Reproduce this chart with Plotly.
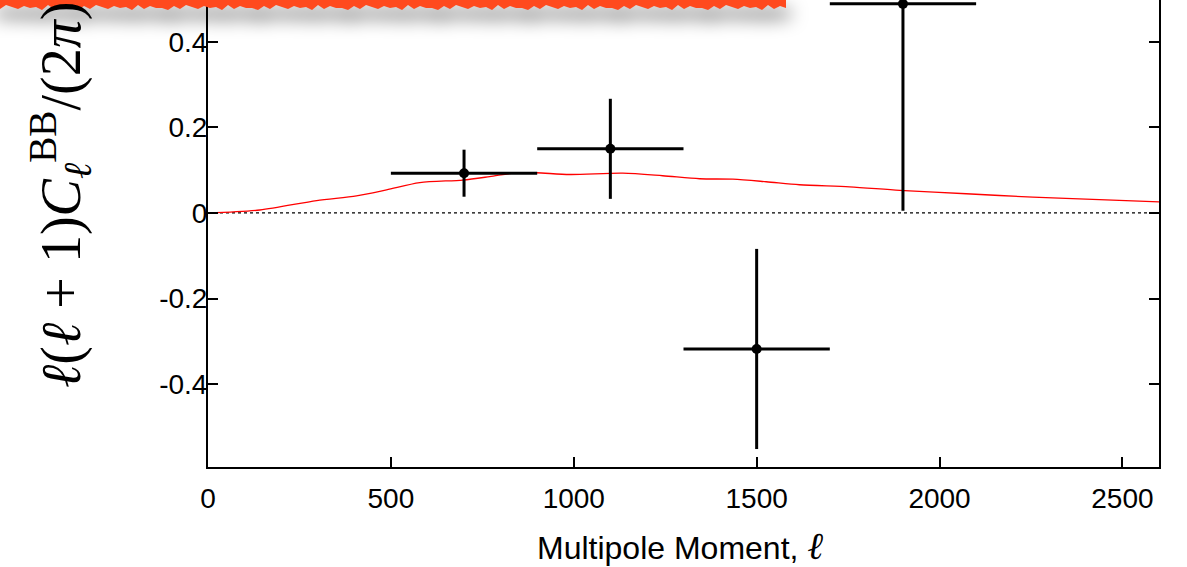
import base64
import plotly.graph_objects as go

# Measured BB band powers: bin centres, half-widths and 1-sigma errors
ell = [700, 1100, 1500, 1900]
ell_halfwidth = [200, 200, 200, 200]
bb = [0.093, 0.150, -0.318, 0.489]
bb_err = [0.055, 0.117, 0.234, 0.484]

# Lensing B-mode model spectrum
theory_ell = [0, 142, 297, 406, 488, 579, 697, 770, 843, 898, 989, 1134, 1243,
              1344, 1435, 1526, 1617, 1754, 1891, 2073, 2255, 2437, 2600]
theory_bb = [0, 0.007, 0.029, 0.040, 0.054, 0.071, 0.077, 0.085, 0.094, 0.094,
             0.090, 0.093, 0.087, 0.080, 0.079, 0.073, 0.066, 0.061, 0.053,
             0.045, 0.037, 0.031, 0.026]

x_ticks = [0, 500, 1000, 1500, 2000, 2500]
y_ticks = [-0.4, -0.2, 0, 0.2, 0.4]
y_ticktext = ["-0.4", "-0.2", "0", "0.2", "0.4"]

W, H = 1187, 567
L, R, T, B = 208, 28, 0, 100
plot_w, plot_h = W - L - R, H - T - B

fig = go.Figure()

# zero reference line
fig.add_trace(go.Scatter(
    x=[0, 2600], y=[0, 0], mode="lines",
    line=dict(color="black", width=1.3, dash="3px,3px"),
    hoverinfo="skip", showlegend=False))

# model curve
fig.add_trace(go.Scatter(
    x=theory_ell, y=theory_bb, mode="lines",
    line=dict(color="#ff0000", width=1.3, shape="spline", smoothing=0.8),
    showlegend=False))

# band powers with bin widths
fig.add_trace(go.Scatter(
    x=ell, y=bb, mode="markers",
    marker=dict(color="black", size=10, symbol="circle"),
    error_x=dict(type="data", array=ell_halfwidth, symmetric=True,
                 color="black", thickness=3, width=0),
    error_y=dict(type="data", array=bb_err, symmetric=True,
                 color="black", thickness=3, width=0),
    showlegend=False))

# red strip with soft drop shadow along the top edge
pattern = [8, 6, 9, 5, 10, 7, 8, 6, 9, 7, 5, 9, 6, 10, 8]
pts = ["-10,0", "786,0"]
xs = list(range(786, -12, -6))
for i, xv in enumerate(xs):
    pts.append(f"{xv},{pattern[i % len(pattern)]}")
poly = " ".join(pts)
svg = (
    "<svg xmlns='http://www.w3.org/2000/svg' width='860' height='60' viewBox='0 0 860 60'>"
    "<defs><filter id='s' x='-10%' y='-200%' width='120%' height='600%'>"
    "<feGaussianBlur stdDeviation='9'/></filter></defs>"
    f"<polygon points='{poly}' fill='#000' fill-opacity='0.65' transform='translate(4,10)' filter='url(#s)'/>"
    f"<polygon points='{poly}' fill='#ff4a1e'/>"
    "</svg>"
)
src = "data:image/svg+xml;base64," + base64.b64encode(svg.encode()).decode()
fig.add_layout_image(dict(
    source=src, xref="paper", yref="paper",
    x=-L / plot_w, y=1, sizex=860 / plot_w, sizey=60 / plot_h,
    xanchor="left", yanchor="top", sizing="stretch", layer="above"))

# axis titles
fig.add_annotation(
    text="<i>ℓ</i>(<i>ℓ</i> + 1)<i>C</i><sub><i>ℓ</i></sub><sup>BB</sup>/(2<i>π</i>)",
    xref="paper", yref="paper", x=(60 - L) / plot_w, y=1 - 195 / plot_h,
    xanchor="center", yanchor="middle", textangle=-90, showarrow=False,
    font=dict(family="Liberation Serif, DejaVu Serif, serif", size=56, color="black"))
fig.add_annotation(
    text="Multipole Moment, <span style='font-family:Liberation Serif;font-size:38px'><i>ℓ</i></span>",
    xref="paper", yref="paper", x=(680 - L) / plot_w, y=1 - 546 / plot_h,
    xanchor="center", yanchor="middle", showarrow=False,
    font=dict(family="Liberation Sans, Arial, sans-serif", size=32, color="black"))

axis_font = dict(family="Liberation Sans, Arial, sans-serif", size=28, color="black")
fig.update_xaxes(
    range=[0, 2600], tickvals=x_ticks, ticktext=[str(v) for v in x_ticks],
    ticks="inside", ticklen=10, tickwidth=1.5, tickcolor="black",
    showline=True, linecolor="black", linewidth=2, mirror=False,
    showgrid=False, zeroline=False, tickfont=axis_font, ticklabelstandoff=5)
fig.update_yaxes(
    range=[-0.594, 0.498], tickvals=y_ticks, ticktext=y_ticktext,
    ticks="inside", ticklen=10, tickwidth=1.5, tickcolor="black",
    showline=True, linecolor="black", linewidth=2, mirror="ticks",
    showgrid=False, zeroline=False, tickfont=axis_font, ticklabelstandoff=-7)

fig.update_layout(
    width=W, height=H,
    margin=dict(l=L, r=R, t=T, b=B, pad=0),
    plot_bgcolor="white", paper_bgcolor="white",
    showlegend=False)

fig.write_html("out.html")
